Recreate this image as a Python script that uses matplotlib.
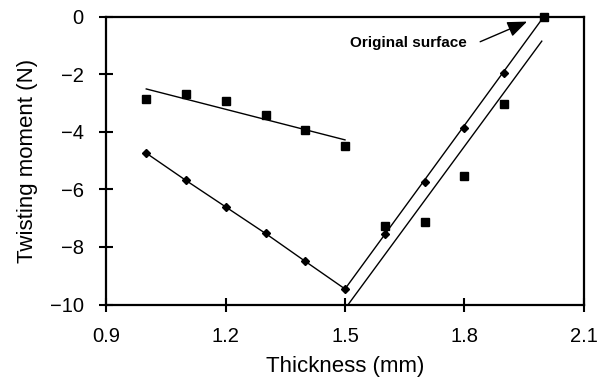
import matplotlib
matplotlib.use("Agg")
import matplotlib.pyplot as plt

plt.rcParams['font.family'] = ['Liberation Sans', 'DejaVu Sans']

thickness = [1.0, 1.1, 1.2, 1.3, 1.4, 1.5, 1.6, 1.7, 1.8, 1.9, 2.0]
square_vals = [-2.85, -2.70, -2.93, -3.41, -3.93, -4.48, -7.26, -7.15, -5.53, -3.04, 0.0]
diamond_vals = [-4.74, -5.69, -6.61, -7.53, -8.50, -9.46, -7.55, -5.74, -3.87, -1.94, 0.0]

# fitted trend lines (endpoints)
sq_fit1_x = [1.0, 1.5]
sq_fit1_y = [-2.51, -4.28]
sq_fit2_x = [1.508, 1.995]
sq_fit2_y = [-10.0, -0.85]
dm_fit2_x = [1.5, 2.0]
dm_fit2_y = [-9.46, 0.0]

xticks = [0.9, 1.2, 1.5, 1.8, 2.1]
xticklabels = ['0.9', '1.2', '1.5', '1.8', '2.1']
yticks = [0, -2, -4, -6, -8, -10]
yticklabels = ['0', '\u22122', '\u22124', '\u22126', '\u22128', '\u221210']

fig = plt.figure(figsize=(6.01, 3.77), dpi=100)
ax = fig.add_axes([0.1772, 0.1923, 0.7937, 0.7634])

ax.plot(sq_fit1_x, sq_fit1_y, color='black', lw=1.0)
ax.plot(sq_fit2_x, sq_fit2_y, color='black', lw=1.0)
ax.plot(thickness[:6], diamond_vals[:6], color='black', lw=1.0)
ax.plot(dm_fit2_x, dm_fit2_y, color='black', lw=1.0)
ax.plot(thickness, square_vals, ls='none', marker='s', ms=6, color='black',
        clip_on=False, zorder=5)
ax.plot(thickness, diamond_vals, ls='none', marker='D', ms=4.2, color='black',
        clip_on=False, zorder=5)

ax.text(1.513, -0.92, 'Original surface', fontsize=11, fontweight='bold',
        va='center', ha='left')
ax.annotate('', xy=(1.958, -0.17), xytext=(1.84, -0.87),
            arrowprops=dict(arrowstyle='-|>,head_length=0.5,head_width=0.2',
                            color='black', lw=1.0, mutation_scale=24,
                            shrinkA=0, shrinkB=0))

ax.set_xlim(0.9, 2.1)
ax.set_ylim(-10, 0)
ax.set_xticks(xticks)
ax.set_xticklabels(xticklabels)
ax.set_yticks(yticks)
ax.set_yticklabels(yticklabels)
ax.tick_params(direction='inout', length=10, width=1.5, labelsize=14.5, pad=11.5)
for s in ax.spines.values():
    s.set_linewidth(1.6)
ax.set_xlabel('Thickness (mm)', fontsize=16, labelpad=7)
ax.set_ylabel('Twisting moment (N)', fontsize=16, labelpad=8.5)

fig.savefig('out.png', dpi=100)
